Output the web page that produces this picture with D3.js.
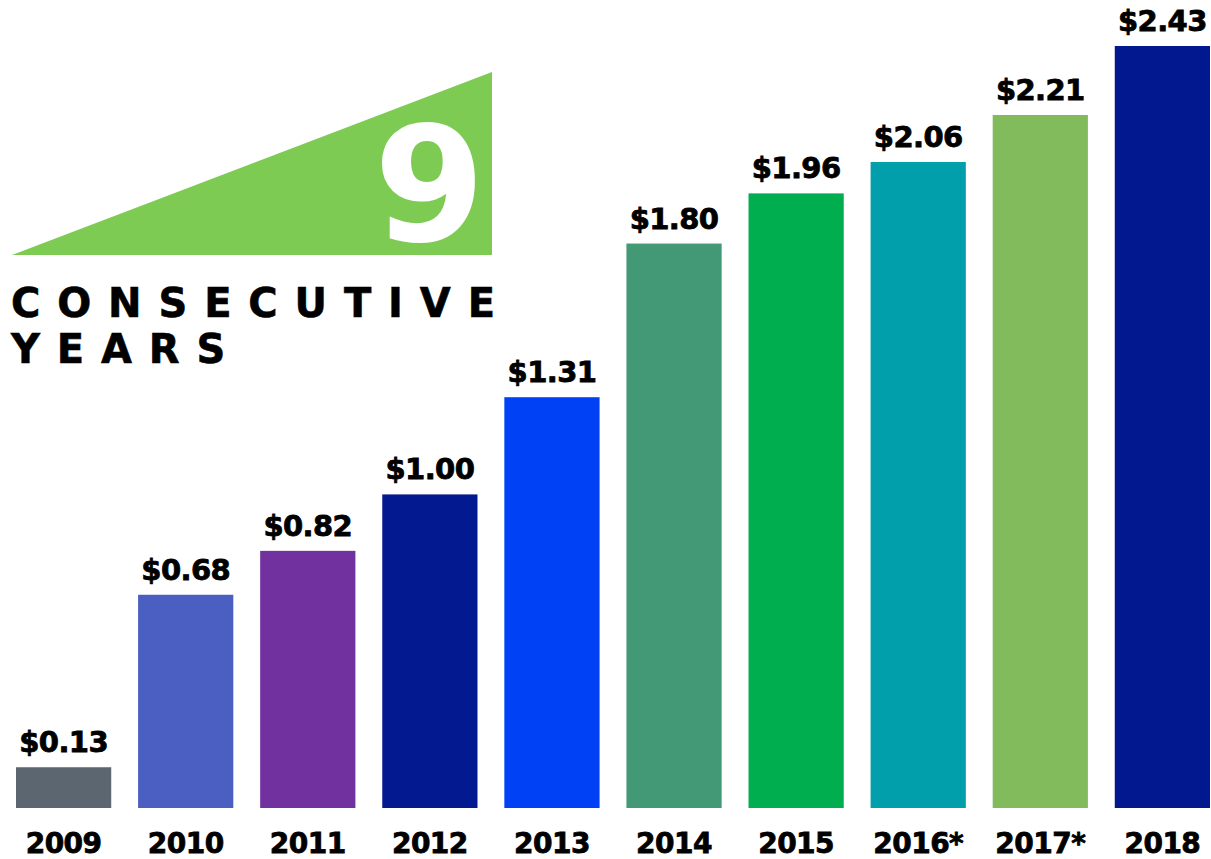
<!DOCTYPE html>
<html>
<head>
<meta charset="utf-8">
<script src="https://cdn.jsdelivr.net/npm/d3@7"></script>
<style>
  html, body { margin: 0; padding: 0; background: #fff; }
  svg { display: block; }
  text { font-family: "DejaVu Sans", sans-serif; font-weight: bold; }
</style>
</head>
<body>
<div id="chart"></div>
<script>
// values
const years = ["2009", "2010", "2011", "2012", "2013", "2014", "2015", "2016*", "2017*", "2018"];
const amounts = [0.13, 0.68, 0.82, 1.00, 1.31, 1.80, 1.96, 2.06, 2.21, 2.43];
const barColors = ["#5c6670", "#4a5fc1", "#71319f", "#02198f", "#0041f5",
                   "#439876", "#00ae4f", "#009fab", "#82bb5c", "#02188f"];
const badgeNumber = "9";
const badgeLines = ["CONSECUTIVE", "YEARS"];

const W = 1211, H = 859;
const svg = d3.select("#chart").append("svg")
  .attr("width", W)
  .attr("height", H);

// bar scales
const x = d3.scaleBand()
  .domain(years)
  .range([16, 1210])
  .paddingInner(0.22)
  .paddingOuter(0);

const y = d3.scaleLinear()
  .domain([0, d3.max(amounts)])
  .range([808, 46]);

const data = years.map((yr, i) => ({ year: yr, value: amounts[i], color: barColors[i] }));

svg.selectAll("rect.bar")
  .data(data)
  .join("rect")
  .attr("class", "bar")
  .attr("x", d => x(d.year))
  .attr("y", d => y(d.value))
  .attr("width", x.bandwidth())
  .attr("height", d => y(0) - y(d.value))
  .attr("fill", d => d.color);

// dollar labels over the bars
svg.selectAll("text.val")
  .data(data)
  .join("text")
  .attr("class", "val")
  .attr("x", d => x(d.year) + x.bandwidth() / 2)
  .attr("y", d => y(d.value) - 15)
  .attr("text-anchor", "middle")
  .attr("font-size", "29px")
  .attr("letter-spacing", "-0.6px")
  .attr("fill", "#000")
  .attr("stroke", "#000")
  .attr("stroke-width", 0.8)
  .text(d => "$" + d3.format(".2f")(d.value));

// year labels under the bars (no axis line in the original)
const xAxis = svg.append("g")
  .attr("transform", "translate(0,808)")
  .call(d3.axisBottom(x).tickSize(0).tickPadding(45));
xAxis.select(".domain").remove();
xAxis.selectAll("text")
  .attr("dy", "0")
  .attr("font-size", "28px")
  .attr("letter-spacing", "-0.5px")
  .attr("fill", "#000")
  .attr("stroke", "#000")
  .attr("stroke-width", 0.8)
  .style("font-family", "'DejaVu Sans', sans-serif")
  .style("font-weight", "bold");

// the green wedge badge in the top left
const badge = svg.append("g");
badge.append("path")
  .attr("d", d3.line()([[12, 255], [492, 72], [492, 255]]) + "Z")
  .attr("fill", "#7dcb52");

badge.append("text")
  .attr("x", 485)
  .attr("y", 241)
  .attr("text-anchor", "end")
  .attr("font-size", "160px")
  .attr("fill", "#fff")
  .text(badgeNumber);

// spaced out caption, spacing chosen so the first line spans the wedge
const capLines = badge.selectAll("text.cap")
  .data(badgeLines)
  .join("text")
  .attr("class", "cap")
  .attr("x", 11)
  .attr("y", (d, i) => 317 + i * 46)
  .attr("font-size", "40px")
  .attr("fill", "#000")
  .attr("stroke", "#000")
  .attr("stroke-width", 0.6)
  .text(d => d);

const first = capLines.filter((d, i) => i === 0).node();
const plain = first.getComputedTextLength();
const n = badgeLines[0].length;
const spacing = (484 - plain) / (n - 1);
capLines.attr("letter-spacing", spacing + "px");
</script>
</body>
</html>
